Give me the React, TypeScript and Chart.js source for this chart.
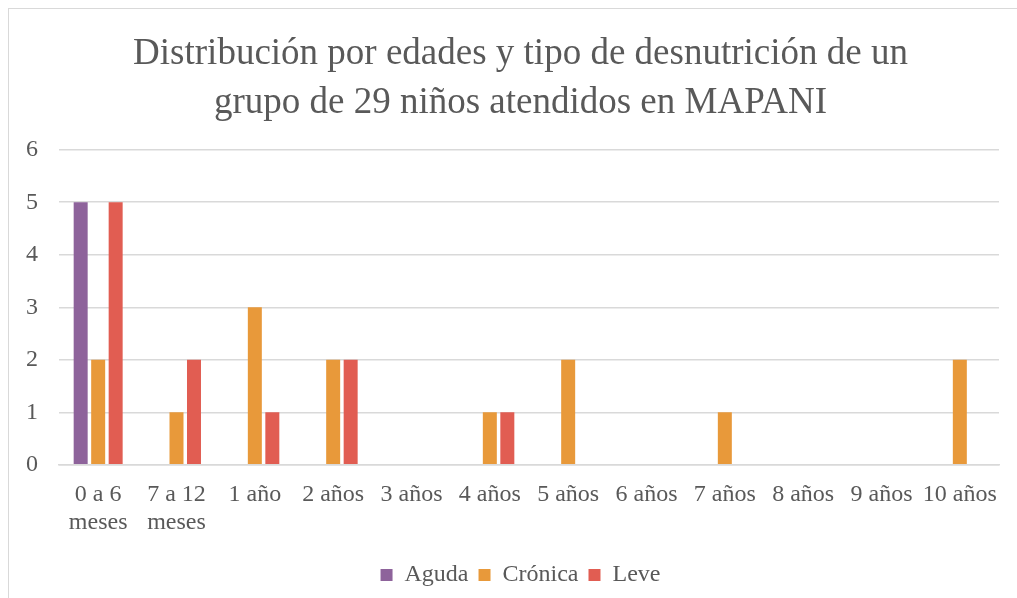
import React, { useEffect, useRef } from "react";
import { Chart, registerables } from "chart.js";

Chart.register(...registerables);

const categories: (string | string[])[] = [
  ["0 a 6", "meses"],
  ["7 a 12", "meses"],
  "1 año",
  "2 años",
  "3 años",
  "4 años",
  "5 años",
  "6 años",
  "7 años",
  "8 años",
  "9 años",
  "10 años",
];
const aguda = [5, 0, 0, 0, 0, 0, 0, 0, 0, 0, 0, 0];
const cronica = [2, 1, 3, 2, 0, 1, 2, 0, 1, 0, 0, 2];
const leve = [5, 2, 1, 2, 0, 1, 0, 0, 0, 0, 0, 0];
const titleLines = [
  "Distribución por edades y tipo de desnutrición de un",
  "grupo de 29 niños atendidos en MAPANI",
];

const FONT = "'Liberation Serif', 'Times New Roman', serif";
const TEXT = "#595959";

export default function App() {
  const ref = useRef<HTMLCanvasElement>(null);
  useEffect(() => {
    document.body.style.overflow = "hidden";
    const ctx = ref.current!;
    const chart = new Chart(ctx, {
      type: "bar",
      data: {
        labels: categories,
        datasets: [
          { label: "Aguda", data: aguda, backgroundColor: "#8E639B" },
          { label: "Crónica", data: cronica, backgroundColor: "#E8993A" },
          { label: "Leve", data: leve, backgroundColor: "#E15D52" },
        ],
      },
      options: {
        animation: false,
        responsive: false,
        maintainAspectRatio: false,
        datasets: { bar: { categoryPercentage: 0.67, barPercentage: 0.8 } },
        layout: { padding: { left: 0, right: 0, top: 0, bottom: 2 } },
        plugins: {
          title: {
            display: true,
            text: titleLines,
            color: TEXT,
            font: { family: FONT, size: 37, weight: "normal", lineHeight: 1.32 },
            padding: { top: 21, bottom: 22 },
          },
          legend: {
            position: "bottom",
            labels: {
              color: TEXT,
              font: { family: FONT, size: 24 },
              boxWidth: 12,
              boxHeight: 12,
              padding: 10,
            },
          },
          tooltip: { enabled: false },
        },
        scales: {
          x: {
            grid: { display: false, drawTicks: false },
            border: { display: true, color: "#d9d9d9", width: 1.5 },
            ticks: {
              color: TEXT,
              font: { family: FONT, size: 24, lineHeight: 1.17 },
              padding: 16,
              maxRotation: 0,
              autoSkip: false,
            },
          },
          y: {
            min: 0,
            max: 6,
            grid: { color: "#d9d9d9", lineWidth: 1.5, drawTicks: false },
            border: { display: false },
            ticks: {
              stepSize: 1,
              color: TEXT,
              font: { family: FONT, size: 24 },
              padding: 21,
            },
            afterFit: (s: any) => {
              s.width = 50;
            },
          },
          y2: {
            type: "linear",
            position: "right",
            display: true,
            grid: { display: false, drawTicks: false },
            border: { display: false },
            ticks: { display: false },
            afterFit: (s: any) => {
              s.width = 33;
            },
          },
        },
      },
    });
    return () => chart.destroy();
  }, []);
  return (
    <div
      style={{
        position: "absolute",
        left: 8,
        top: 8,
        width: 1040,
        height: 600,
        borderLeft: "1.5px solid #d9d9d9",
        borderTop: "1.5px solid #d9d9d9",
        background: "#fff",
      }}
    >
      <canvas ref={ref} width={1023} height={590} style={{ display: "block" }} />
    </div>
  );
}
